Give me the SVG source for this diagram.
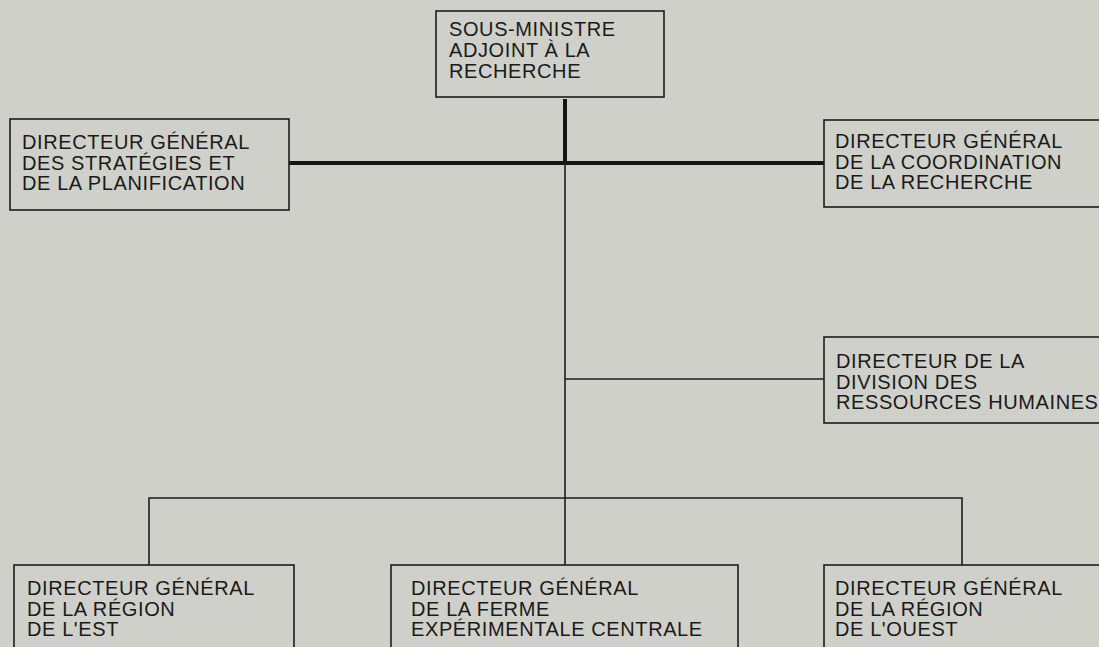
<svg xmlns="http://www.w3.org/2000/svg" width="1099" height="647" viewBox="0 0 1099 647">
<style>
.bg{fill:#cfd0c9}
.box{fill:none;stroke:#1c1c1c;stroke-width:1.6}
.thick{stroke:#151515;stroke-width:4;fill:none}
.thin{stroke:#1c1c1c;stroke-width:1.6;fill:none}
text{font-family:"Liberation Sans",Arial,sans-serif;font-size:20px;fill:#1a1a1a;letter-spacing:0.6px}
</style>
<rect class="bg" x="0" y="0" width="1099" height="647"/>
<g id="connectors">
<line class="thick" x1="565" y1="99" x2="565" y2="163"/>
<line class="thick" x1="289" y1="163" x2="824" y2="163"/>
<line class="thin" x1="565" y1="163" x2="565" y2="565"/>
<line class="thin" x1="565" y1="379" x2="824" y2="379"/>
<polyline class="thin" points="149,565 149,498 962,498 962,565"/>
</g>
<g id="n-sousministre">
<rect class="box" x="436" y="11" width="228" height="86"/>
<text x="449" y="36">SOUS-MINISTRE</text>
<text x="449" y="57">ADJOINT À LA</text>
<text x="449" y="78">RECHERCHE</text>
</g>
<g id="n-strategies">
<rect class="box" x="10" y="119" width="279" height="91"/>
<text x="22" y="149">DIRECTEUR GÉNÉRAL</text>
<text x="22" y="169.5">DES STRATÉGIES ET</text>
<text x="22" y="190">DE LA PLANIFICATION</text>
</g>
<g id="n-coordination">
<rect class="box" x="824" y="120" width="290" height="87"/>
<text x="835" y="148">DIRECTEUR GÉNÉRAL</text>
<text x="835" y="168.5">DE LA COORDINATION</text>
<text x="835" y="189">DE LA RECHERCHE</text>
</g>
<g id="n-rh">
<rect class="box" x="824" y="337" width="290" height="86"/>
<text x="836" y="368">DIRECTEUR DE LA</text>
<text x="836" y="388.5">DIVISION DES</text>
<text x="836" y="409">RESSOURCES HUMAINES</text>
</g>
<g id="n-est">
<rect class="box" x="14" y="565" width="280" height="100"/>
<text x="27" y="595">DIRECTEUR GÉNÉRAL</text>
<text x="27" y="615.5">DE LA RÉGION</text>
<text x="27" y="636">DE L'EST</text>
</g>
<g id="n-ferme">
<rect class="box" x="391" y="565" width="347" height="100"/>
<text x="411" y="595">DIRECTEUR GÉNÉRAL</text>
<text x="411" y="615.5">DE LA FERME</text>
<text x="411" y="636">EXPÉRIMENTALE CENTRALE</text>
</g>
<g id="n-ouest">
<rect class="box" x="824" y="565" width="290" height="100"/>
<text x="835" y="595">DIRECTEUR GÉNÉRAL</text>
<text x="835" y="615.5">DE LA RÉGION</text>
<text x="835" y="636">DE L'OUEST</text>
</g>
</svg>
